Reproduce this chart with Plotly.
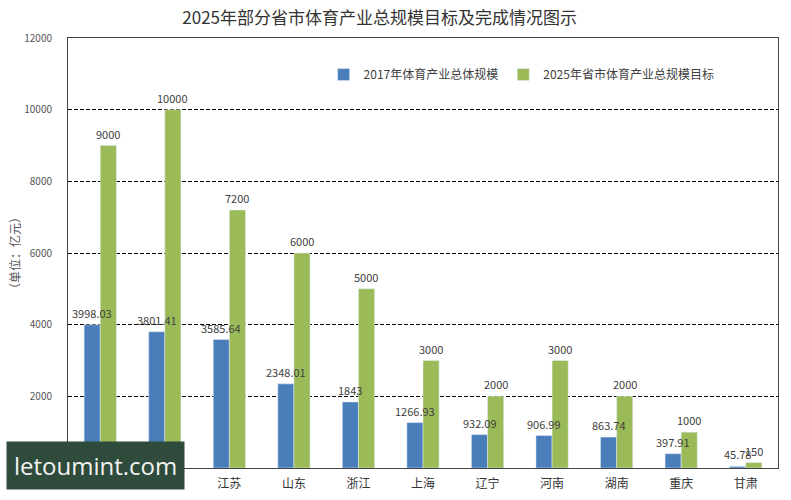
import plotly.graph_objects as go

categories = ["广东", "福建", "江苏", "山东", "浙江", "上海", "辽宁", "河南", "湖南", "重庆", "甘肃"]
scale_2017 = [3998.03, 3801.41, 3585.64, 2348.01, 1843, 1266.93, 932.09, 906.99, 863.74, 397.91, 45.78]
target_2025 = [9000, 10000, 7200, 6000, 5000, 3000, 2000, 3000, 2000, 1000, 150]
labels_2017 = ["3998.03", "3801.41", "3585.64", "2348.01", "1843", "1266.93", "932.09", "906.99", "863.74", "397.91", "45.78"]
labels_2025 = ["9000", "10000", "7200", "6000", "5000", "3000", "2000", "3000", "2000", "1000", "150"]
y_ticks = [2000, 4000, 6000, 8000, 10000, 12000]

font_family = "Noto Sans CJK SC"

fig = go.Figure()
fig.add_trace(go.Bar(
    x=categories, y=scale_2017, name="2017年体育产业总体规模",
    marker_color="#4a7ebb",
))
fig.add_trace(go.Bar(
    x=categories, y=target_2025, name="2025年省市体育产业总规模目标",
    marker_color="#9bbb59",
))

# value labels drawn on top of all bars
for cat, val, lab in zip(categories, scale_2017, labels_2017):
    fig.add_annotation(x=cat, y=val, text=lab, xshift=-8, yshift=2,
                       yanchor="bottom", showarrow=False,
                       font=dict(size=11, color="#404040"))
for cat, val, lab in zip(categories, target_2025, labels_2025):
    fig.add_annotation(x=cat, y=val, text=lab, xshift=8, yshift=2,
                       yanchor="bottom", showarrow=False,
                       font=dict(size=11, color="#404040"))

fig.update_layout(
    width=791, height=500,
    margin=dict(l=68, r=13, t=38, b=32),
    paper_bgcolor="white", plot_bgcolor="white",
    font=dict(family=font_family, color="#404040"),
    barmode="group", bargap=0.5, bargroupgap=0,
    title=dict(text="2025年部分省市体育产业总规模目标及完成情况图示",
               x=0.48, xanchor="center", y=0.963, yanchor="middle",
               font=dict(size=17, color="#333333", family=font_family)),
    legend=dict(orientation="h", x=0.36, xanchor="left", y=0.915, yanchor="middle",
                font=dict(size=12, color="#404040"), bgcolor="rgba(0,0,0,0)",
                itemwidth=30, traceorder="normal"),
    showlegend=True,
)
fig.update_yaxes(
    range=[0, 12000], tickvals=y_ticks, tickformat="d", automargin=False,
    showgrid=True, gridcolor="black", gridwidth=1,
    griddash="4px,2px", showline=True, linecolor="#444444", linewidth=1, mirror=True,
    ticks="outside", ticklen=13, tickcolor="rgba(0,0,0,0)",
    tickfont=dict(size=10, color="#555555"), zeroline=False,
    title=dict(text="（单位：亿元）", font=dict(size=12, color="#555555"), standoff=1),
)
fig.update_xaxes(
    showline=True, linecolor="#444444", linewidth=1, mirror=True, automargin=False,
    tickfont=dict(size=12, color="#333333"),
    ticks="outside", ticklen=5, tickcolor="rgba(0,0,0,0)",
)

fig.add_annotation(
    text="letoumint.com", xref="paper", yref="paper", x=-0.087, y=-0.052,
    xanchor="left", yanchor="bottom", showarrow=False,
    font=dict(size=24, color="#f2f2f2", family="Open Sans"),
    bgcolor="#2e4b3c", borderpad=7,
)

fig.write_html("out.html")
